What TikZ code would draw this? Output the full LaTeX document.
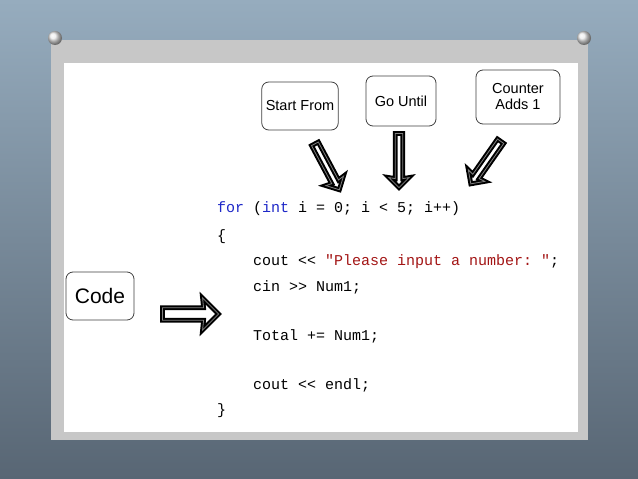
\documentclass[tikz,border=0pt]{standalone}
\usepackage{fontspec}
\setmainfont{Liberation Sans}
\setmonofont{Liberation Mono}
\usetikzlibrary{shapes.arrows, positioning}
\definecolor{kwblue}{RGB}{30,40,200}
\definecolor{strred}{RGB}{163,21,21}
\tikzset{
  label box/.style={rectangle, rounded corners=7pt, draw=black!75, line width=0.8pt, align=center, font=\fontsize{14.5}{16}\selectfont, inner sep=4pt},
  block arrow/.style={single arrow, draw=black, line width=2pt, fill=white, double=black!50, double distance=0.8pt, minimum width=20pt, single arrow head extend=4pt, single arrow head indent=1pt, inner sep=1.5pt, anchor=tip},
  codeline/.style={anchor=west, inner sep=0pt, font=\ttfamily\fontsize{15}{16}\selectfont},
  pin/.style={circle, inner sep=0pt, minimum size=14pt, ball color=black!8}
}
\begin{document}
\begin{tikzpicture}[x=1pt, y=-1pt]
  \useasboundingbox (0,0) rectangle (638,479);
  % background and panel
  \shade[top color={rgb,255:red,150;green,172;blue,190}, bottom color={rgb,255:red,88;green,102;blue,116}] (0,0) rectangle (638,479);
  \fill[black!22] (51,40) rectangle (588,440);
  \fill[white] (64,63) rectangle (578,432);
  \node (pinl) [pin] at (55,38) {};
  \node (pinr) [pin] at (584,38) {};

  % Boxes
  \node (start) [label box, minimum width=74pt, minimum height=48pt] at (300,106) {Start From};
  \node (until) [label box, minimum width=70pt, minimum height=50pt] at (401,101) {Go Until};
  \node (counter) [label box, minimum width=84pt, minimum height=54pt] at (518,97) {Counter\\Adds 1};
  \node (code) [label box, minimum width=68pt, minimum height=48pt, font=\fontsize{21}{22}\selectfont] at (100,296) {Code};

  % Code lines
  \node (l1) [codeline] at (217,209) {\textcolor{kwblue}{for} (\textcolor{kwblue}{int} i = 0; i < 5; i++)};
  \node (l2) [codeline] at (217,237) {\{};
  \node (l3) [codeline] at (253,262) {cout << \textcolor{strred}{"Please input a number: "};};
  \node (l4) [codeline] at (253,287) {cin >> Num1;};
  \node (l5) [codeline] at (253,336) {Total += Num1;};
  \node (l6) [codeline] at (253,385) {cout << endl;};
  \node (l7) [codeline] at (217,411) {\}};

  % Arrows
  \node (a1) [block arrow, minimum height=52pt, rotate=-62] at (340,191) {};
  \node (a2) [block arrow, minimum height=54pt, rotate=-90] at (399,189) {};
  \node (a3) [block arrow, minimum height=52pt, rotate=-125] at (470,185) {};
  \node (a4) [block arrow, minimum height=56pt, minimum width=32pt] at (220,314) {};
\end{tikzpicture}
\end{document}
